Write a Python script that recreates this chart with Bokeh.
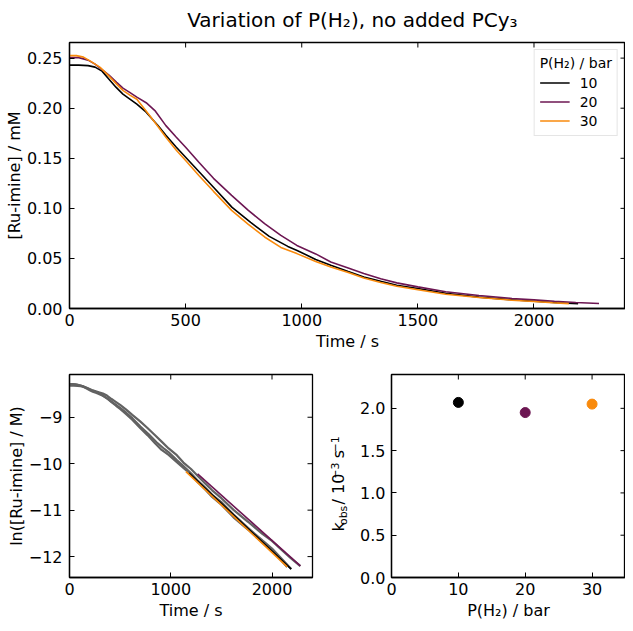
import numpy as np
from bokeh.plotting import figure
from bokeh.models import (FixedTicker, PrintfTickFormatter, Range1d,
                          Legend, LegendItem)
from bokeh.core.properties import value
from bokeh.layouts import column, row
from bokeh.embed import file_html
from bokeh.resources import INLINE

# ---------------- data ----------------
pressure_labels = ["10", "20", "30"]
pressures = [10, 20, 30]
colors = ["#000000", "#6c1652", "#f98a0c"]

t_10 = [0, 40, 80, 110, 140, 170, 200, 230, 260, 290, 330, 380, 415, 460, 500,
        560, 620, 700, 780, 860, 940, 980, 1060, 1125, 1200, 1267, 1340, 1409,
        1500, 1620, 1763, 1905, 2000, 2100, 2190]
c_10 = [0.243, 0.243, 0.2425, 0.241, 0.237, 0.229, 0.221, 0.214, 0.209, 0.204,
        0.196, 0.183, 0.173, 0.161, 0.151, 0.136, 0.121, 0.101, 0.086, 0.072,
        0.062, 0.058, 0.049, 0.0432, 0.037, 0.0315, 0.0272, 0.0232, 0.0199,
        0.0152, 0.0114, 0.0087, 0.0073, 0.0058, 0.0047]

t_20 = [0, 40, 80, 110, 132, 170, 203, 230, 259, 290, 330, 370, 415, 460, 500,
        557, 620, 698, 770, 840, 910, 979, 1060, 1125, 1200, 1267, 1340, 1409,
        1500, 1620, 1763, 1905, 2000, 2088, 2180, 2280]
c_20 = [0.2505, 0.2505, 0.248, 0.244, 0.240, 0.233, 0.2258, 0.220, 0.2158,
        0.211, 0.2055, 0.197, 0.1826, 0.171, 0.161, 0.146, 0.130, 0.113, 0.098,
        0.0847, 0.073, 0.063, 0.0545, 0.0465, 0.0405, 0.0349, 0.0297, 0.0256,
        0.0216, 0.0168, 0.0130, 0.0100, 0.0086, 0.0072, 0.0060, 0.0050]

t_30 = [0, 30, 60, 90, 132, 170, 203, 231, 260, 290, 345, 380, 415, 460, 500,
        557, 620, 698, 770, 840, 910, 979, 1060, 1125, 1200, 1267, 1340, 1409,
        1500, 1620, 1763, 1905, 2000, 2080, 2150]
c_30 = [0.2525, 0.2525, 0.251, 0.247, 0.2407, 0.232, 0.224, 0.2175, 0.213,
        0.209, 0.1926, 0.182, 0.171, 0.158, 0.1477, 0.1328, 0.117, 0.098, 0.084,
        0.0714, 0.061, 0.0548, 0.047, 0.0415, 0.0360, 0.0305, 0.0260, 0.0222,
        0.0188, 0.0143, 0.0110, 0.0083, 0.0070, 0.0058, 0.0049]

# linear fit segments on ln plot
fit_t_start = [1180, 1265, 1150]
fit_t_end = [2190, 2280, 2150]
fit_ln_start = [-10.20, -10.22, -10.17]
fit_ln_end = [-12.27, -12.20, -12.22]

# rate constants, 10^-3 s^-1
kobs = [2.07, 1.95, 2.05]

top_xticks = [0, 500, 1000, 1500, 2000]
top_yticks = [0, 0.05, 0.10, 0.15, 0.20, 0.25]
ln_xticks = [0, 1000, 2000]
ln_yticks = [-12, -11, -10, -9]
k_xticks = [0, 10, 20, 30]
k_yticks = [0, 0.5, 1.0, 1.5, 2.0]

TITLE = "Variation of P(H₂), no added PCy₃"

times = [t_10, t_20, t_30]
concs = [c_10, c_20, c_30]

FONT = "DejaVu Sans"
TICK = "16px"


def style(p, xticks, yticks, xr, yr, xfmt=None, yfmt=None, xlabel=None,
          ylabel=None, yover=None, ystandoff=7):
    p.outline_line_color = "black"
    p.outline_line_width = 1.3
    p.xgrid.visible = False
    p.ygrid.visible = False
    xa = p.xaxis[0]
    ya = p.yaxis[0]
    xa.ticker = FixedTicker(ticks=xticks)
    ya.ticker = FixedTicker(ticks=yticks)
    if xfmt:
        xa.formatter = PrintfTickFormatter(format=xfmt)
    if yfmt:
        ya.formatter = PrintfTickFormatter(format=yfmt)
    if yover:
        ya.major_label_overrides = yover
    xa.axis_label = xlabel
    ya.axis_label = ylabel
    xa.major_label_standoff = 5
    ya.major_label_standoff = ystandoff
    xa.axis_label_standoff = 3
    ya.axis_label_standoff = 0
    for ax in (xa, ya):
        ax.major_label_text_font = FONT
        ax.major_label_text_font_size = TICK
        ax.major_label_text_color = "black"
        ax.axis_label_text_font = FONT
        ax.axis_label_text_font_size = "16px"
        ax.axis_label_text_font_style = "normal"
        ax.axis_label_text_color = "black"
        ax.major_tick_in = 5
        ax.major_tick_out = 0
        ax.minor_tick_in = 0
        ax.minor_tick_out = 0
        ax.axis_line_color = "black"
        ax.axis_line_width = 1.3
        ax.major_tick_line_color = "black"
        ax.major_tick_line_width = 1.0
    # mirrored inward ticks on top and right edges
    p.ray(x=xticks, y=[yr[1]] * len(xticks), length=5, length_units="screen",
          angle=-np.pi / 2, line_color="black", line_width=1.0)
    p.ray(x=[xr[1]] * len(yticks), y=yticks, length=5, length_units="screen",
          angle=np.pi, line_color="black", line_width=1.0)


# ---------------- title strip ----------------
TH = 40
tf = figure(width=625, height=TH, output_backend="svg", toolbar_location=None,
            x_range=Range1d(0, 625), y_range=Range1d(0, TH), min_border=0,
            x_axis_type=None, y_axis_type=None, outline_line_color=None)
tf.text(x=[318], y=[TH - 19], text=[TITLE], text_font=value(FONT),
        text_font_size="20px", text_align="center", text_baseline="middle",
        text_color="black")

# ---------------- top plot ----------------
xr1, yr1 = (0, 2394), (0, 0.2656)
p1 = figure(width=625, height=314, output_backend="svg", toolbar_location=None,
            x_range=Range1d(*xr1), y_range=Range1d(*yr1),
            min_border_left=69, min_border_right=0, min_border_top=2,
            min_border_bottom=46)
style(p1, top_xticks, top_yticks, xr1, yr1, yfmt="%.2f", xlabel="Time / s",
      ylabel="[Ru-imine] / mM")

items = []
for lab, t, c, col in zip(pressure_labels, times, concs, colors):
    r = p1.line(t, c, line_color=col, line_width=1.6)
    items.append(LegendItem(label=lab, renderers=[r]))
leg = Legend(items=items, location="top_right", title="P(H₂) / bar",
             title_text_font=FONT, title_text_font_size="14px",
             title_text_font_style="normal", title_text_color="black",
             title_standoff=2,
             label_text_font=FONT, label_text_font_size="14px",
             label_text_color="black",
             glyph_width=30, glyph_height=19, label_height=19, spacing=0,
             label_standoff=10, padding=5, margin=7,
             border_line_color="#cccccc", border_line_width=1,
             background_fill_alpha=0.8)
p1.add_layout(leg)

# ---------------- bottom left: ln plot ----------------
RH = 269
xr2, yr2 = (0, 2400), (-12.45, -8.08)
p2 = figure(width=322, height=RH, output_backend="svg", toolbar_location=None,
            x_range=Range1d(*xr2), y_range=Range1d(*yr2),
            min_border_left=69, min_border_right=10, min_border_top=20,
            min_border_bottom=46)
style(p2, ln_xticks, ln_yticks, xr2, yr2, xlabel="Time / s",
      ylabel="ln([Ru-imine] / M)",
      yover={-12: "−12", -11: "−11", -10: "−10", -9: "−9"})
for t, c in zip(times, concs):
    p2.line(t, np.log(np.array(c) * 1e-3), line_color="#626262", line_width=2.2)
for ts, te, ls, le, col in zip(fit_t_start, fit_t_end, fit_ln_start, fit_ln_end, colors):
    p2.line([ts, te], [ls, le], line_color=col, line_width=1.6)

# ---------------- y label strip for kobs panel ----------------
LW = 35
lf = figure(width=LW, height=RH, output_backend="svg", toolbar_location=None,
            x_range=Range1d(0, LW), y_range=Range1d(0, RH), min_border=0,
            x_axis_type=None, y_axis_type=None, outline_line_color=None)
# pieces of  k_obs / 10^-3 s^-1 (rotated, read bottom to top)
pieces = ["k", "obs", "/ 10", "−3", "s", "−1"]
piece_sizes = [16, 11, 16, 11, 16, 11]
piece_xmid = [15.5, 21.2, 15.5, 12.2, 15.5, 12.2]
piece_em = [0.579, 1.80, 1.927, 1.474, 0.521, 1.474]
piece_gap = [0, 0.05, 0.6, 0.05, 0.6, 0.05]
total = sum(e * s for e, s in zip(piece_em, piece_sizes)) + sum(piece_gap) * 16
frame_mid = 46 + (RH - 46 - 20) / 2 - 24
py = []
ycur = frame_mid - total / 2
for fs, em, gap in zip(piece_sizes, piece_em, piece_gap):
    ycur += gap * 16
    py.append(ycur + em * fs / 2)
    ycur += em * fs
lf.text(x=piece_xmid, y=py, text=pieces, angle=np.pi / 2, text_font=value(FONT),
        text_font_size=[f"{s}px" for s in piece_sizes], text_align="center",
        text_baseline="middle", text_color="black")

# ---------------- bottom right: kobs ----------------
xr3, yr3 = (0, 35), (0, 2.4)
p3 = figure(width=625 - 322 - LW, height=RH, output_backend="svg",
            toolbar_location=None,
            x_range=Range1d(*xr3), y_range=Range1d(*yr3),
            min_border_left=33, min_border_right=0, min_border_top=20,
            min_border_bottom=46)
style(p3, k_xticks, k_yticks, xr3, yr3, yfmt="%.1f", xlabel="P(H₂) / bar",
      ystandoff=6)
p3.scatter(pressures, kobs, size=10, fill_color=colors, line_color=colors)

layout = column(tf, p1, row(p2, lf, p3))
open("out.html", "w").write(file_html(layout, INLINE))
